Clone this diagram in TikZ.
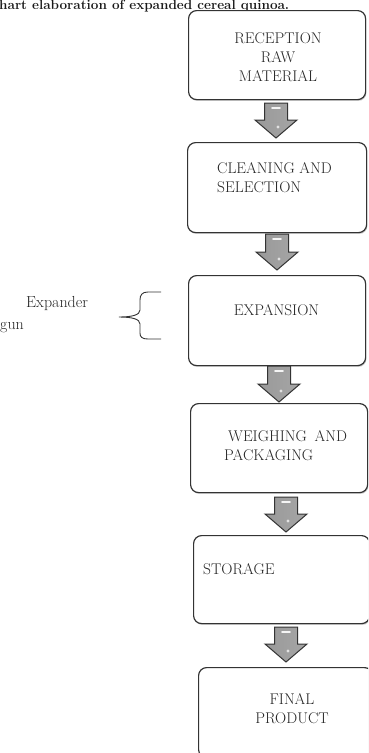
\documentclass[tikz,border=0pt]{standalone}
\usetikzlibrary{shadows}
\newcommand\flowarrow[3]{%
  \draw[blockarr] ({#1-11.5},#2) -- ({#1+11.5},#2) -- ({#1+11.5},{#3-18}) -- ({#1+21},{#3-18})
    -- (#1,#3) -- ({#1-21},{#3-18}) -- ({#1-11.5},{#3-18}) -- cycle;
  \draw[white, line width=1.6pt, line cap=round, opacity=0.9] ({#1-4},{#2+5}) -- ({#1+4},{#2+5});
  \fill[white, opacity=0.7] ({#1+2},{#3-11}) circle (1.6pt);
}
\begin{document}
\begin{tikzpicture}[x=1pt,y=-1pt,
  box/.style={draw=black!80, line width=1.2pt, rounded corners=8pt, fill=white, inner sep=0pt,
    anchor=north west,
    drop shadow={shadow xshift=0.8pt, shadow yshift=-1.3pt, opacity=0.35, fill=black!60}},
  lbl/.style={font=\fontsize{15.5}{19}\selectfont, inner sep=0pt, text=black!85},
  blockarr/.style={draw=black!80, line width=1pt, line join=miter,
    left color=black!40, middle color=black!15, right color=black!35},
  bracestyle/.style={draw=black!80, line width=0.9pt},
  ]
\clip (0,0) rectangle (368,753);

% title (cropped at top, as in the reference)
\node[anchor=base west, inner sep=0pt, text=black!90,
  font=\bfseries\fontsize{13.5}{15}\selectfont] (title) at (-1,9)
  {hart elaboration of expanded cereal quinoa.};

% boxes
\node[box, minimum width=177pt, minimum height=89pt] (b1) at (188,10) {};
\node[box, minimum width=179pt, minimum height=90pt] (b2) at (187,142) {};
\node[box, minimum width=177pt, minimum height=90pt] (b3) at (188,275) {};
\node[box, minimum width=177pt, minimum height=89pt] (b4) at (190,403) {};
\node[box, minimum width=176pt, minimum height=88pt] (b5) at (193,535) {};
\node[box, minimum width=174pt, minimum height=90pt] (b6) at (198,667) {};

% texts
\node[lbl, align=center, anchor=north] (t1) at (278,32) {RECEPTION\\RAW\\MATERIAL};
\node[lbl, align=left, anchor=north west] (t2) at (217,162) {CLEANING AND\\SELECTION};
\node[lbl, anchor=north] (t3) at (276.5,304) {EXPANSION};
\node[lbl, align=left, anchor=north west] (t4) at (224,430) {\hspace{4pt}WEIGHING\hspace{3pt} AND\\PACKAGING};
\node[lbl, anchor=north west] (t5) at (203,563) {STORAGE};
\node[lbl, align=center, anchor=north] (t6) at (292,693) {FINAL\\PRODUCT};

% side note
\node[lbl, align=left, anchor=north west, font=\fontsize{16}{22}\selectfont] (note) at (0,296)
  {\hspace{26pt}Expander\\gun};
\draw[bracestyle] (161,292) -- (148,292) .. controls (142,292) and (140,295) .. (140,300)
  -- (140,310) .. controls (140,315) and (132,317) .. (119,317)
  .. controls (132,317) and (140,319) .. (140,324)
  -- (140,333) .. controls (140,337) and (142,339) .. (148,339) -- (161,339);

% block arrows between boxes
\flowarrow{276}{103}{138}
\flowarrow{277}{234}{270}
\flowarrow{279}{366}{402}
\flowarrow{286}{497}{532}
\flowarrow{286}{627}{662}
\end{tikzpicture}
\end{document}
